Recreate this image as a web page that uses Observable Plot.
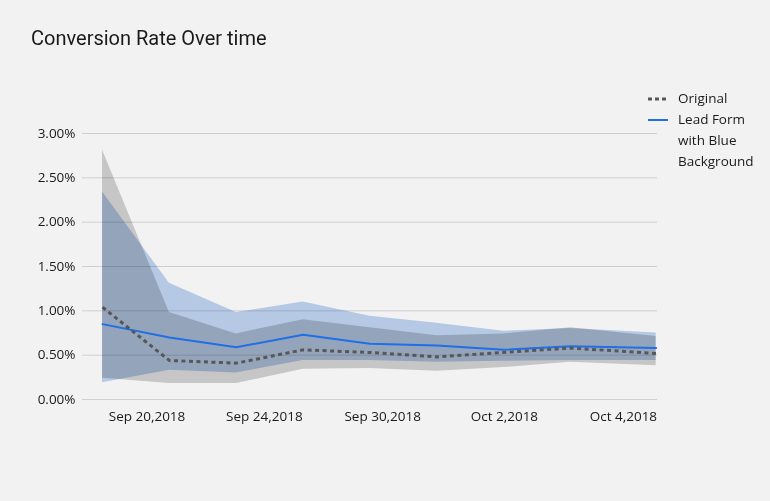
<!DOCTYPE html>
<html>
<head>
<meta charset="utf-8">
<script src="https://cdn.jsdelivr.net/npm/d3@7"></script>
<script src="https://cdn.jsdelivr.net/npm/@observablehq/plot@0.6"></script>
<style>
  html, body { margin: 0; padding: 0; background: #f2f2f2; }
  #wrap { position: relative; width: 770px; height: 501px; background: #f2f2f2; overflow: hidden; }
  #title { position: absolute; left: 31px; top: 26px; font: 20px Roboto, sans-serif; color: #1a1a1a; }
  #chart { position: absolute; left: 0; top: 60px; }
  #chart svg { background: transparent; }
  #chart g[aria-label="area"] { mix-blend-mode: multiply; }
  #legend { position: absolute; left: 648px; top: 88px; font: 13.5px "Open Sans", sans-serif; color: #1a1a1a; }
  .item { display: flex; align-items: flex-start; line-height: 21px; }
  .swatch { width: 20px; height: 21px; margin-right: 10px; flex: none; display: flex; align-items: center; }
  .txt { width: 90px; }
</style>
</head>
<body>
<div id="wrap">
  <div id="title">Conversion Rate Over time</div>
  <div id="chart"></div>
  <div id="legend"></div>
</div>
<script>
// ---- data (percent units) ----
const dayIndex     = [0, 1, 2, 3, 4, 5, 6, 7, 8.28];
const original     = [1.04, 0.44, 0.41, 0.56, 0.53, 0.48, 0.53, 0.58, 0.52];
const originalLow  = [0.24, 0.18, 0.18, 0.34, 0.35, 0.32, 0.36, 0.42, 0.38];
const originalHigh = [2.81, 0.98, 0.74, 0.90, 0.81, 0.72, 0.74, 0.81, 0.71];
const leadForm     = [0.85, 0.70, 0.59, 0.73, 0.63, 0.61, 0.56, 0.60, 0.58];
const leadLow      = [0.19, 0.33, 0.30, 0.44, 0.44, 0.42, 0.43, 0.44, 0.44];
const leadHigh     = [2.34, 1.31, 0.98, 1.10, 0.94, 0.86, 0.77, 0.80, 0.75];
const xTickLabels  = ["Sep 20,2018", "Sep 24,2018", "Sep 30,2018", "Oct 2,2018", "Oct 4,2018"];
const xTickAt      = [0.665, 2.42, 4.19, 6.01, 7.79];
const yTicks       = [0, 0.5, 1, 1.5, 2, 2.5, 3];
const seriesNames  = ["Original", "Lead Form with Blue Background"];

const rows = dayIndex.map((d, i) => ({
  x: d, orig: original[i], oLo: originalLow[i], oHi: originalHigh[i],
  lead: leadForm[i], lLo: leadLow[i], lHi: leadHigh[i]
}));
const tickLabel = new Map(xTickAt.map((t, i) => [t, xTickLabels[i]]));

const chart = Plot.plot({
  width: 770,
  height: 380,
  marginLeft: 82,
  marginRight: 113,
  marginTop: 73,
  marginBottom: 41,
  style: { background: "transparent", fontFamily: "'Open Sans', sans-serif", fontSize: "13.5px", color: "#1a1a1a", overflow: "visible" },
  x: { domain: [-0.3, 8.3], axis: null },
  y: { domain: [0, 3], axis: null },
  marks: [
    Plot.gridY(yTicks, { stroke: "#cfcfcf", strokeOpacity: 1, strokeWidth: 1 }),
    Plot.areaY(rows, { x: "x", y1: "lLo", y2: "lHi", fill: "#bfd4f2", mixBlendMode: "multiply" }),
    Plot.areaY(rows, { x: "x", y1: "oLo", y2: "oHi", fill: "#d1d1d1", mixBlendMode: "multiply" }),
    Plot.lineY(rows, { x: "x", y: "lead", stroke: "#1f6fe6", strokeWidth: 2 }),
    Plot.lineY(rows, { x: "x", y: "orig", stroke: "#575757", strokeWidth: 3, strokeDasharray: "4,3.5", strokeLinecap: "butt", strokeLinejoin: "miter" }),
    Plot.axisY(yTicks, { anchor: "left", tickSize: 0, tickPadding: 7, tickFormat: d => d.toFixed(2) + "%", fontSize: 13.5, fill: "#1a1a1a", label: null }),
    Plot.axisX(xTickAt, { anchor: "bottom", tickSize: 0, tickPadding: 12, tickFormat: d => tickLabel.get(d), fontSize: 13.5, fill: "#1a1a1a", label: null })
  ]
});
document.getElementById("chart").appendChild(chart);

// legend
const legend = d3.select("#legend");
const swatches = [
  { stroke: "#575757", width: 3, dash: "4,3" },
  { stroke: "#1f6fe6", width: 2, dash: null }
];
seriesNames.forEach((name, i) => {
  const item = legend.append("div").attr("class", "item");
  const sw = item.append("div").attr("class", "swatch")
    .append("svg").attr("width", 20).attr("height", 6);
  sw.append("line").attr("x1", 0).attr("x2", 20).attr("y1", 3).attr("y2", 3)
    .attr("stroke", swatches[i].stroke).attr("stroke-width", swatches[i].width)
    .attr("stroke-dasharray", swatches[i].dash);
  item.append("div").attr("class", "txt").text(name);
});
</script>
</body>
</html>
